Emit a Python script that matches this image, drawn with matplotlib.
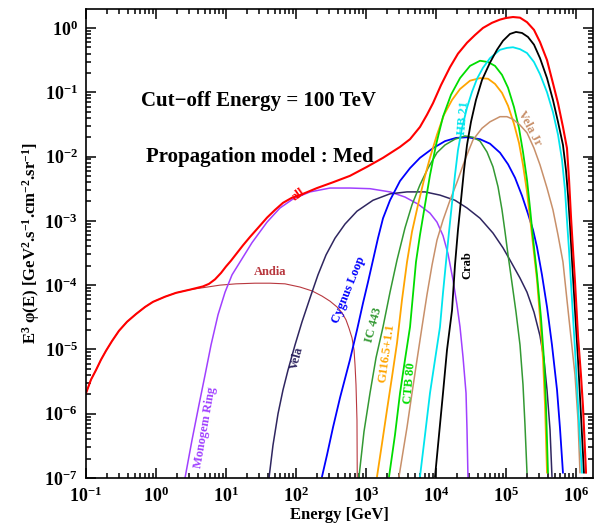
import numpy as np
import matplotlib
matplotlib.use("Agg")
import matplotlib.pyplot as plt
from matplotlib.ticker import LogLocator, LogFormatterMathtext, NullFormatter

plt.rcParams['font.family'] = ['Liberation Serif', 'DejaVu Serif']
plt.rcParams['font.weight'] = 'bold'
plt.rcParams['mathtext.fontset'] = 'custom'
plt.rcParams['mathtext.rm'] = 'Liberation Serif:bold'
plt.rcParams['mathtext.bf'] = 'Liberation Serif:bold'
plt.rcParams['mathtext.it'] = 'Liberation Serif:bold:italic'
plt.rcParams['mathtext.default'] = 'bf'

# ---- data: log10(E/GeV) and log10(E^3 phi) ----
all_logE = [-1.0, -0.929, -0.857, -0.786, -0.714, -0.629, -0.529, -0.414, -0.286, -0.157, -0.043,
            0.129, 0.286, 0.486, 0.671, 0.757, 0.843, 0.929, 1.0, 1.071, 1.157, 1.243, 1.343,
            1.457, 1.586, 1.7, 1.814, 1.943, 2.057, 2.3, 2.529, 2.771, 3.014, 3.243, 3.486, 3.629,
            3.771, 3.871, 3.957, 4.071, 4.2, 4.314, 4.443, 4.557, 4.671, 4.8, 4.914, 5.0, 5.1,
            5.2, 5.3, 5.4, 5.486, 5.586, 5.671, 5.743, 5.814, 5.871, 5.9, 5.929, 5.957, 5.986,
            6.029, 6.071, 6.1, 6.143]
all_logF = [-5.68, -5.47, -5.32, -5.16, -5.02, -4.87, -4.71, -4.57, -4.45, -4.34, -4.26,
            -4.18, -4.12, -4.07, -4.02, -3.98, -3.91, -3.81, -3.71, -3.62, -3.50, -3.38, -3.25,
            -3.11, -2.95, -2.83, -2.72, -2.64, -2.60, -2.49, -2.40, -2.30, -2.16, -2.02, -1.85, -1.73,
            -1.54, -1.35, -1.17, -0.89, -0.61, -0.40, -0.23, -0.11, 0.0, 0.08, 0.13, 0.155, 0.17,
            0.16, 0.09, -0.03, -0.22, -0.50, -0.86, -1.17, -1.54, -1.87, -2.35, -2.95, -3.45, -3.95,
            -4.80, -5.40, -5.89, -6.92]

andia_logE = [-1.0, -0.929, -0.857, -0.786, -0.714, -0.629, -0.529, -0.414, -0.286, -0.157,
              -0.043, 0.129, 0.286, 0.486, 0.671, 0.914, 1.143, 1.414, 1.629, 1.843, 2.057, 2.229,
              2.371, 2.486, 2.586, 2.657, 2.714, 2.757, 2.8, 2.829, 2.843, 2.857, 2.871, 2.875]
andia_logF = [-5.68, -5.47, -5.32, -5.16, -5.02, -4.87, -4.71, -4.57, -4.45, -4.34,
              -4.26, -4.18, -4.12, -4.07, -4.04, -4.00, -3.98, -3.97, -3.97, -3.98, -4.03, -4.09,
              -4.17, -4.25, -4.34, -4.43, -4.54, -4.67, -4.82, -5.01, -5.24, -5.55, -6.10, -7.0]

monogem_logE = [0.414, 0.514, 0.614, 0.7, 0.786, 0.886, 0.986, 1.086, 1.2, 1.371, 1.586, 1.771,
                1.957, 2.2, 2.486, 2.771, 3.057, 3.343, 3.557, 3.743, 3.914, 4.014, 4.1, 4.171,
                4.243, 4.3, 4.343, 4.386, 4.429, 4.443, 4.457]
monogem_logF = [-7.0, -6.41, -5.86, -5.40, -4.93, -4.46, -4.11, -3.84, -3.64, -3.34, -3.02, -2.80,
                -2.66, -2.55, -2.49, -2.49, -2.50, -2.55, -2.63, -2.74, -2.88, -3.02, -3.23, -3.51,
                -3.92, -4.31, -4.65, -5.12, -5.68, -6.25, -7.0]

vela_logE = [1.614, 1.671, 1.743, 1.814, 1.886, 1.986, 2.086, 2.2, 2.314, 2.429, 2.557, 2.7,
             2.871, 3.1, 3.343, 3.586, 3.843, 4.057, 4.271, 4.443, 4.629, 4.814, 4.957, 5.057,
             5.2, 5.3, 5.4, 5.486, 5.543, 5.586, 5.629, 5.657]
vela_logF = [-7.0, -6.49, -6.0, -5.63, -5.32, -4.93, -4.57, -4.20, -3.84, -3.53, -3.27, -3.05,
             -2.85, -2.68, -2.58, -2.55, -2.55, -2.60, -2.68, -2.80, -2.96, -3.19, -3.42, -3.61,
             -3.89, -4.11, -4.42, -4.79, -5.16, -5.63, -6.25, -6.98]

cygnus_logE = [2.371, 2.443, 2.529, 2.629, 2.771, 2.871, 2.957, 3.029, 3.1, 3.171, 3.243, 3.343,
               3.486, 3.629, 3.771, 3.957, 4.129, 4.286, 4.443, 4.629, 4.771, 4.914, 5.029, 5.129,
               5.229, 5.314, 5.386, 5.443, 5.514, 5.586, 5.657, 5.729, 5.771, 5.814]
cygnus_logF = [-6.98, -6.64, -6.21, -5.75, -5.16, -4.70, -4.28, -3.95, -3.61, -3.27, -2.96, -2.68,
               -2.38, -2.18, -2.02, -1.87, -1.76, -1.71, -1.70, -1.73, -1.80, -1.94, -2.12, -2.33,
               -2.61, -2.89, -3.14, -3.41, -3.84, -4.34, -4.93, -5.63, -6.22, -6.92]

ic443_logE = [2.9, 2.971, 3.057, 3.143, 3.243, 3.343, 3.443, 3.557, 3.657, 3.771, 3.886, 4.014,
              4.129, 4.271, 4.414, 4.529, 4.629, 4.729, 4.814, 4.886, 4.943, 4.986, 5.029, 5.086,
              5.143, 5.2, 5.243, 5.271, 5.3]
ic443_logF = [-6.98, -6.28, -5.68, -5.13, -4.65, -4.11, -3.61, -3.11, -2.75, -2.44, -2.18, -1.94,
              -1.82, -1.73, -1.68, -1.70, -1.76, -1.93, -2.16, -2.47, -2.83, -3.17, -3.53, -3.97,
              -4.42, -4.93, -5.55, -6.17, -6.92]

g116_logE = [3.157, 3.229, 3.3, 3.371, 3.443, 3.514, 3.586, 3.657, 3.743, 3.829, 3.914, 4.014,
             4.114, 4.229, 4.343, 4.486, 4.629, 4.743, 4.843, 4.943, 5.029, 5.114, 5.186, 5.243,
             5.3, 5.343, 5.386, 5.443, 5.486, 5.529, 5.557, 5.586]
g116_logF = [-6.98, -6.46, -5.94, -5.43, -4.90, -4.23, -3.64, -3.17, -2.75, -2.36, -2.02, -1.66,
             -1.35, -1.12, -0.95, -0.82, -0.78, -0.79, -0.87, -1.01, -1.21, -1.49, -1.79, -2.13,
             -2.55, -2.95, -3.37, -3.92, -4.51, -5.16, -5.86, -6.92]

ctb80_logE = [3.329, 3.414, 3.486, 3.557, 3.629, 3.671, 3.714, 3.771, 3.843, 3.914, 4.0, 4.1,
              4.214, 4.343, 4.486, 4.629, 4.743, 4.843, 4.943, 5.029, 5.114, 5.186, 5.243, 5.3,
              5.343, 5.386, 5.443, 5.5, 5.543, 5.571, 5.6]
ctb80_logF = [-6.98, -6.33, -5.68, -5.16, -4.65, -4.15, -3.64, -3.22, -2.75, -2.29, -1.82, -1.38,
              -1.04, -0.78, -0.59, -0.51, -0.53, -0.59, -0.73, -0.93, -1.23, -1.56, -1.93, -2.36,
              -2.80, -3.27, -3.84, -4.51, -5.16, -5.86, -6.92]

hb21_logE = [3.771, 3.843, 3.914, 3.986, 4.057, 4.1, 4.143, 4.186, 4.229, 4.271, 4.314, 4.371,
             4.443, 4.514, 4.586, 4.671, 4.771, 4.914, 5.014, 5.1, 5.2, 5.3, 5.4, 5.486, 5.586,
             5.671, 5.743, 5.8, 5.843, 5.871, 5.9, 5.943, 5.986, 6.029, 6.057, 6.086]
hb21_logF = [-6.98, -6.33, -5.68, -5.16, -4.65, -4.12, -3.64, -3.17, -2.72, -2.29, -1.90, -1.56,
             -1.24, -0.995, -0.79, -0.62, -0.47, -0.34, -0.31, -0.30, -0.33, -0.39, -0.53, -0.72,
             -1.00, -1.31, -1.66, -2.05, -2.52, -2.99, -3.45, -4.23, -5.01, -5.86, -6.41, -6.92]

crab_logE = [3.986, 4.043, 4.1, 4.157, 4.229, 4.271, 4.314, 4.357, 4.4, 4.443, 4.5, 4.571, 4.657,
             4.771, 4.871, 4.957, 5.057, 5.143, 5.229, 5.314, 5.4, 5.486, 5.586, 5.671, 5.743,
             5.814, 5.857, 5.886, 5.914, 5.943, 5.986, 6.029, 6.071, 6.114]
crab_logF = [-6.98, -6.33, -5.68, -5.01, -4.39, -3.69, -3.14, -2.68, -2.21, -1.82, -1.46, -1.12,
             -0.81, -0.54, -0.34, -0.20, -0.093, -0.062, -0.078, -0.14, -0.26, -0.47, -0.78, -1.12,
             -1.46, -1.82, -2.21, -2.60, -3.06, -3.61, -4.39, -5.16, -6.02, -6.92]

velajr_logE = [3.471, 3.529, 3.586, 3.657, 3.729, 3.8, 3.871, 3.943, 4.014, 4.1, 4.2, 4.3, 4.414,
               4.529, 4.657, 4.771, 4.914, 5.014, 5.1, 5.2, 5.3, 5.4, 5.486, 5.586, 5.671, 5.743,
               5.814, 5.871, 5.929, 5.986, 6.029, 6.057]
velajr_logF = [-6.98, -6.59, -6.21, -5.68, -5.16, -4.65, -4.15, -3.69, -3.30, -2.99, -2.68, -2.40,
               -2.05, -1.74, -1.56, -1.46, -1.38, -1.38, -1.42, -1.51, -1.63, -1.87, -2.13, -2.49,
               -2.83, -3.22, -3.64, -4.23, -4.82, -5.40, -6.10, -6.92]

series = [
    ("Andia", andia_logE, andia_logF, "#b8383f", 0.8),
    ("Monogem Ring", monogem_logE, monogem_logF, "#a040ff", 1.1),
    ("Vela", vela_logE, vela_logF, "#2f2660", 1.1),
    ("Cygnus Loop", cygnus_logE, cygnus_logF, "#0000ff", 1.3),
    ("IC 443", ic443_logE, ic443_logF, "#339933", 1.1),
    ("G116.5+1.1", g116_logE, g116_logF, "#ffa500", 1.3),
    ("CTB 80", ctb80_logE, ctb80_logF, "#00dd00", 1.3),
    ("Vela Jr", velajr_logE, velajr_logF, "#c8906a", 1.1),
    ("HB 21", hb21_logE, hb21_logF, "#00e5ee", 1.3),
    ("Crab", crab_logE, crab_logF, "#000000", 1.3),
    ("all", all_logE, all_logF, "#ff0000", 1.5),
]

fig = plt.figure(figsize=(5.97, 5.32), dpi=100)
ax = fig.add_axes([0.1441, 0.1015, 0.8492, 0.8816])

for name, lx, ly, col, lw in series:
    ax.plot(10 ** np.array(lx), 10 ** np.array(ly), color=col, lw=lw,
            solid_joinstyle='round', solid_capstyle='round')

ax.set_xscale('log')
ax.set_yscale('log')
ax.set_xlim(0.1, 10 ** 6.243)
ax.set_ylim(1e-7, 10 ** 0.295)

ax.xaxis.set_major_locator(LogLocator(base=10, numticks=20))
ax.xaxis.set_minor_locator(LogLocator(base=10, subs=np.arange(2, 10), numticks=20))
ax.yaxis.set_major_locator(LogLocator(base=10, numticks=20))
ax.yaxis.set_minor_locator(LogLocator(base=10, subs=np.arange(2, 10), numticks=20))
ax.xaxis.set_major_formatter(LogFormatterMathtext())
ax.yaxis.set_major_formatter(LogFormatterMathtext())
ax.xaxis.set_minor_formatter(NullFormatter())
ax.yaxis.set_minor_formatter(NullFormatter())
ax.tick_params(which='both', direction='in', top=True, right=True, width=1.1)
ax.tick_params(which='major', length=7, labelsize=13, pad=6)
ax.tick_params(which='minor', length=3.5)
for s in ax.spines.values():
    s.set_linewidth(1.2)

ax.set_xlabel("Energy [GeV]", fontsize=12, fontweight='bold', labelpad=1)
ax.set_ylabel(r"E$^{3}$ φ(E) [GeV$^{2}$.s$^{-1}$.cm$^{-2}$.sr$^{-1}$]", fontsize=12,
              fontweight='bold', labelpad=2)

ax.text(10 ** 1.457, 10 ** -1.135, "Cut\u2212off Energy = 100 TeV", fontsize=15,
        ha='center', va='center')
ax.text(10 ** 1.486, 10 ** -2.006, "Propagation model : Med", fontsize=15,
        ha='center', va='center')

labels = [
    ("all", 2.03, -2.60, 35, "#ff0000"),
    ("Andia", 1.629, -3.80, 0, "#b8383f"),
    ("Monogem Ring", 0.70, -6.22, 80, "#a040ff"),
    ("Vela", 2.014, -5.13, 75, "#2f2660"),
    ("Cygnus Loop", 2.757, -4.07, 68, "#0000ff"),
    ("IC 443", 3.114, -4.62, 75, "#339933"),
    ("G116.5+1.1", 3.30, -5.06, 82, "#ffa500"),
    ("CTB 80", 3.629, -5.52, 85, "#00dd00"),
    ("HB 21", 4.39, -1.40, 85, "#00e5ee"),
    ("Crab", 4.443, -3.69, 90, "#000000"),
    ("Vela Jr", 5.343, -1.56, -62, "#c8906a"),
]
for txt, lx, ly, rot, col in labels:
    ax.text(10 ** lx, 10 ** ly, txt, color=col, rotation=rot, fontsize=9, fontweight='bold',
            ha='center', va='center', rotation_mode='anchor')

fig.savefig("out.png", dpi=100)
